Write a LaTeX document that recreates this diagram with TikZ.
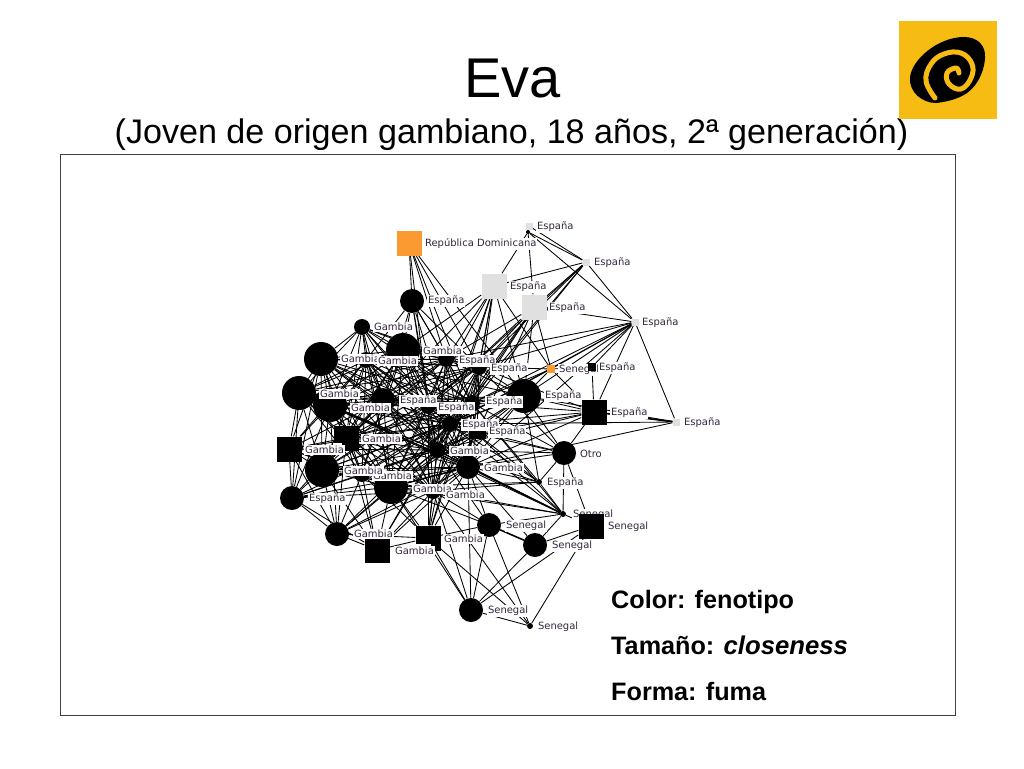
\documentclass[tikz,border=0pt]{standalone}
\usepackage{fontspec}
\setmainfont{Liberation Sans}
\newfontfamily\etiqfont{DejaVu Sans}
\usetikzlibrary{backgrounds}
\definecolor{naranja}{HTML}{FC9A32}
\definecolor{gris}{HTML}{E0E0E0}
\definecolor{logoam}{HTML}{F6BC14}
\definecolor{etiq}{HTML}{35263F}
\tikzset{
  bola/.style={circle,fill=black,inner sep=0pt,minimum size=#1},
  caja/.style={rectangle,fill=#1,inner sep=0pt},
  tie/.style={line width=.85pt,black},
  tiefuerte/.style={line width=1.6pt,black},
  lab/.style={anchor=west,fill=white,inner sep=.8pt,yshift=-1pt,text=etiq,font=\etiqfont\fontsize{10}{11}\selectfont},
  nota/.style={anchor=base west,inner sep=0pt,font=\bfseries\fontsize{25.2}{28}\selectfont}
}
\begin{document}
\begin{tikzpicture}[x=1pt,y=-1pt]
            \useasboundingbox (0,0) rectangle (1024,768);
            \node[inner sep=0pt,anchor=base,font=\fontsize{56}{60}\selectfont] (titulo) at (512.5,97) {Eva};
            \node[inner sep=0pt,anchor=base,font=\fontsize{34.1}{38}\selectfont] (subtitulo) at (511.5,143) {(Joven de origen gambiano, 18 años, 2ª generación)};
            \node[rectangle,draw=black!75,line width=.8pt,fill=none,inner sep=0pt,minimum width=895pt,minimum height=561pt] (marco) at (507.5,434.5) {};

            % logo
            \node[caja=logoam,minimum width=98pt,minimum height=98pt] (logo) at (948,70) {};
            \fill[black] (936,103) .. controls (922,103) and (909,92) .. (910,78) .. controls (911,60) and (938,37) .. (964,37)
                .. controls (978,37) and (986,46) .. (985,58) .. controls (984,74) and (975,90) .. (962,96)
                .. controls (954,100) and (945,102) .. (936,103) -- cycle;
            \draw[logoam,line width=5pt,line cap=round,line join=round] plot[smooth,tension=.7] coordinates
                {(935,98) (926,81) (931,64) (944,54) (961,53) (972,64) (971,78) (961,89) (949,84) (947,73) (956,68) (959,73)};

            % circulos
            \node[bola=24pt] (A) at (412,301) {};
            \node[bola=16pt] (B) at (362,327) {};
            \node[bola=34pt] (C) at (321,359) {};
            \node[bola=16pt] (D) at (366,360) {};
            \node[bola=34pt] (E) at (403,350) {};
            \node[bola=16pt] (F) at (446,359) {};
            \node[bola=16pt] (G) at (479,367) {};
            \node[bola=34pt] (H) at (299,393) {};
            \node[bola=34pt] (I) at (330,405) {};
            \node[bola=24pt] (J) at (383,400) {};
            \node[bola=16pt] (K) at (428,406) {};
            \node[bola=16pt] (L) at (472,403) {};
            \node[bola=34pt] (M) at (524,396) {};
            \node[bola=16pt] (N) at (450,424) {};
            \node[bola=16pt] (O) at (437,450) {};
            \node[bola=24pt] (P) at (468,467) {};
            \node[bola=34pt] (Q) at (322,470) {};
            \node[bola=16pt] (R) at (362,474) {};
            \node[bola=34pt] (S) at (391,487) {};
            \node[bola=16pt] (T) at (433,491) {};
            \node[bola=24pt] (U) at (292,498) {};
            \node[bola=24pt] (V) at (337,534) {};
            \node[bola=24pt] (W) at (489,525) {};
            \node[bola=24pt] (X) at (535,545) {};
            \node[bola=24pt] (Y) at (564,453) {};
            \node[bola=6pt] (Z) at (539,482) {};
            \node[bola=6pt] (AA) at (563,514) {};
            \node[bola=24pt] (AB) at (471,610) {};
            \node[bola=6pt] (AC) at (530,626) {};
            \node[bola=4pt] (NA) at (528,232) {};

            % cuadrados
            \node[caja=black,minimum size=25pt] (SA) at (289,449) {};
            \node[caja=black,minimum size=25pt] (SB) at (346,438) {};
            \node[caja=black,minimum size=25pt] (SC) at (377,550) {};
            \node[caja=black,minimum size=25pt] (SD) at (428,538) {};
            \node[caja=black,minimum size=25pt] (SE) at (594,412) {};
            \node[caja=black,minimum size=25pt] (SF) at (591,526) {};
            \node[caja=black,minimum width=17pt,minimum height=9pt] (SG) at (477,434) {};
            \node[caja=black,minimum size=8pt] (SH) at (592,367) {};
            \node[caja=naranja,minimum size=25pt] (OA) at (409,243) {};
            \node[caja=naranja,minimum size=8pt] (OB) at (551,369) {};
            \node[caja=gris,minimum size=25pt] (GA) at (494,286) {};
            \node[caja=gris,minimum size=25pt] (GB) at (534,307) {};
            \node[caja=gris,minimum size=7pt] (GC) at (529,226) {};
            \node[caja=gris,minimum size=7pt] (GD) at (586,262) {};
            \node[caja=gris,minimum size=7pt] (GE) at (635,322) {};
            \node[caja=gris,minimum size=7pt] (GF) at (676,422) {};
            \fill[white] (334,443) rectangle (342,451);
            \fill[white] (415,544) rectangle (431,551);

            \begin{scope}[on background layer]
            \fill[white] (0,0) rectangle (1024,768);
            % nucleo
            \draw[tie] (D) edge (E) edge (F) edge (G) edge (J) edge (K) edge (L) edge (M) edge (N) edge (O) edge (P) edge (R) edge (S) edge (T) edge (I) edge (SB) edge (SG);
            \draw[tie] (E) edge (F) edge (G) edge (J) edge (K) edge (L) edge (N) edge (O) edge (P) edge (I) edge (R) edge (S) edge (SB) edge (SG) edge (T);
            \draw[tie] (F) edge (G) edge (J) edge (K) edge (L) edge (M) edge (N) edge (O) edge (P) edge (S) edge (T) edge (SB) edge (SG);
            \draw[tie] (G) edge (J) edge (K) edge (L) edge (M) edge (N) edge (O) edge (P) edge (S) edge (T) edge (SB) edge (SG);
            \draw[tie] (J) edge (K) edge (L) edge (M) edge (N) edge (O) edge (P) edge (Q) edge (R) edge (S) edge (T) edge (I) edge (SB) edge (SG);
            \draw[tie] (K) edge (L) edge (M) edge (N) edge (O) edge (P) edge (Q) edge (R) edge (S) edge (T) edge (SB) edge (SG) edge (I);
            \draw[tie] (L) edge (M) edge (N) edge (O) edge (P) edge (R) edge (S) edge (T) edge (SB) edge (SG);
            \draw[tie] (M) edge (N) edge (O) edge (P) edge (S) edge (T) edge (SG) edge (SB);
            \draw[tie] (N) edge (O) edge (P) edge (Q) edge (R) edge (S) edge (T) edge (SB) edge (SG) edge (I);
            \draw[tie] (O) edge (P) edge (Q) edge (R) edge (S) edge (T) edge (SB) edge (SG) edge (I);
            \draw[tie] (P) edge (R) edge (S) edge (T) edge (SB) edge (SG) edge (Q);
            \draw[tie] (Q) edge (R) edge (S) edge (T) edge (SB) edge (I) edge (H) edge (C) edge (G) edge (F) edge (M) edge (E) edge (D);
            \draw[tie] (R) edge (S) edge (T) edge (SB) edge (SG) edge (I);
            \draw[tie] (S) edge (T) edge (SB) edge (SG) edge (I);
            \draw[tie] (T) edge (SB) edge (SG);
            \draw[tie] (C) edge (D) edge (E) edge (I) edge (H) edge (J) edge (K) edge (N) edge (O) edge (SB) edge (F) edge (G) edge (L) edge (P) edge (R) edge (S) edge (T);
            \draw[tie] (H) edge (I) edge (D) edge (J) edge (K) edge (N) edge (O) edge (SB) edge (R) edge (S) edge (E) edge (F) edge (G) edge (L) edge (P) edge (T);
            \draw[tie] (I) edge (SB) edge (SG) edge (F) edge (G) edge (L) edge (M) edge (P) edge (T);
            % periferia arriba
            \draw[tie] (A) edge (E) edge (F) edge (G) edge (K) edge (L) edge (N) edge (J) edge (D) edge (O);
            \draw[tie] (B) edge (C) edge (D) edge (E) edge (F) edge (J) edge (K) edge (I) edge (H) edge (N) edge (O) edge (L) edge (G) edge (S) edge (SB);
            \draw[tie] (OA) edge (A) edge (F) edge (G) edge (L) edge (K) edge (M);
            \draw[tie] (GA) edge (F) edge (G) edge (K) edge (L) edge (N) edge (O) edge (P) edge (J) edge (E) edge (M) edge (OB) edge (NA) edge (GD);
            \draw[tie] (GB) edge (F) edge (G) edge (L) edge (M) edge (K) edge (N) edge (OB) edge (NA) edge (GD) edge (GE) edge (O) edge (SG);
            \draw[tie] (NA) edge (GD) edge (GE);
            \draw[tie] (GC) edge (GD);
            \draw[tie] (GD) edge (GE) edge (G) edge (L) edge (N) edge (K);
            \draw[tie] (GE) edge (GF) edge (OB) edge (SH) edge (SE) edge (M) edge (G) edge (F) edge (P) edge (L) edge (N);
            \draw[tie] (GF) edge (SE) edge (M) edge (N) edge (P);
            \draw[tiefuerte] (GF) edge (SE);
            \draw[tie] (SH) edge (SE) edge (OB);
            \draw[tie] (SE) edge (M) edge (G) edge (L) edge (N) edge (O) edge (P) edge (OB) edge (Y) edge (SG);
            \draw[tie] (OB) edge (M) edge (N) edge (G) edge (L);
            % periferia abajo
            \draw[tie] (Y) edge (M) edge (L) edge (N) edge (O) edge (P) edge (AA) edge (Z) edge (G) edge (SG) edge (SF);
            \draw[tie] (Z) edge (P) edge (O) edge (N) edge (AA) edge (S) edge (T) edge (L) edge (M) edge (SG);
            \draw[tie] (AA) edge (W) edge (X) edge (O) edge (N) edge (S) edge (T) edge (L) edge (SF) edge (SG) edge (I);
            \draw[tiefuerte] (P) edge (AA);
            \draw[tie] (W) edge (T) edge (P) edge (AB) edge (AC) edge (S) edge (O) edge (SD);
            \draw[tiefuerte] (W) edge (X);
            \draw[tie] (X) edge (AB) edge (SF) edge (P);
            \draw[tie] (AB) edge (SF) edge (SD) edge (T) edge (S) edge (P) edge (AC);
            \draw[tie] (AC) edge (SF) edge (SD) edge (T);
            \draw[tie] (U) edge (SA) edge (Q) edge (H) edge (C) edge (V) edge (SC) edge (R) edge (I) edge (S) edge (SB) edge (O) edge (T) edge (P) edge (N);
            \draw[tie] (V) edge (Q) edge (R) edge (S) edge (SC) edge (SD) edge (SB) edge (I) edge (T) edge (SA) edge (O) edge (N) edge (P);
            \draw[tie] (SC) edge (Q) edge (R) edge (S) edge (SD) edge (T) edge (SB) edge (O) edge (P) edge (N);
            \draw[tie] (SD) edge (S) edge (T) edge (O) edge (P) edge (R) edge (N) edge (L) edge (G) edge (K);
            \draw[tie] (SA) edge (H) edge (I) edge (C) edge (Q) edge (SB) edge (R) edge (D) edge (J) edge (O) edge (N) edge (S);
            \draw[tiefuerte] (Q) edge (J);
            \draw[tiefuerte] (S) edge (P);
            % estas dos quedan bajo los cuadrados
            \node[lab] (lOB) at (558,369) {Senegal};
            \node[lab] (lAA) at (572,514) {Senegal};
            \end{scope}

            % etiquetas
            \node[lab] (lOA) at (424,243) {República Dominicana};
            \node[lab] (lGC) at (536,226) {España};
            \node[lab] (lGD) at (593,262) {España};
            \node[lab] (lGA) at (509,286) {España};
            \node[lab] (lGB) at (548,307) {España};
            \node[lab] (lGE) at (641,322) {España};
            \node[lab] (lA) at (427,300) {España};
            \node[lab] (lB) at (373,326) {Gambia};
            \node[lab] (lC) at (340,358) {Gambia};
            \node[lab] (lD) at (377,360) {Gambia};
            \node[lab] (lE) at (422,350) {Gambia};
            \node[lab] (lF) at (458,360) {España};
            \node[lab] (lG) at (490,368) {España};
            \node[lab] (lSH) at (598,367) {España};
            \node[lab] (lH) at (319,393) {Gambia};
            \node[lab] (lI) at (350,407) {Gambia};
            \node[lab] (lJ) at (399,400) {España};
            \node[lab] (lK) at (437,407) {España};
            \node[lab] (lL) at (485,401) {España};
            \node[lab] (lM) at (544,395) {España};
            \node[lab] (lSE) at (610,412) {España};
            \node[lab] (lGF) at (683,422) {España};
            \node[lab] (lN) at (461,424) {España};
            \node[lab] (lSG) at (488,431) {España};
            \node[lab] (lSB) at (361,438) {Gambia};
            \node[lab] (lSA) at (304,449) {Gambia};
            \node[lab] (lO) at (449,450) {Gambia};
            \node[lab] (lY) at (579,453) {Otro};
            \node[lab] (lP) at (483,467) {Gambia};
            \node[lab] (lR) at (372,475) {Gambia};
            \node[lab] (lQ) at (343,470) {Gambia};
            \node[lab] (lZ) at (546,482) {España};
            \node[lab] (lS) at (412,488) {Gambia};
            \node[lab] (lT) at (445,494) {Gambia};
            \node[lab] (lU) at (308,498) {España};
            \node[lab] (lW) at (505,525) {Senegal};
            \node[lab] (lSF) at (607,526) {Senegal};
            \node[lab] (lV) at (353,533) {Gambia};
            \node[lab] (lSD) at (443,538) {Gambia};
            \node[lab] (lX) at (551,545) {Senegal};
            \node[lab] (lSC) at (394,550) {Gambia};
            \node[lab] (lAB) at (487,610) {Senegal};
            \node[lab] (lAC) at (537,626) {Senegal};

            % leyenda
            \node[nota] (color) at (611,608) {Color: fenotipo};
            \node[nota] (tamano) at (611,654) {Tamaño: {\fontsize{25.7}{28}\selectfont\textit{closeness}}};
            \node[nota] (forma) at (611,700) {Forma: fuma};
\end{tikzpicture}
\end{document}
